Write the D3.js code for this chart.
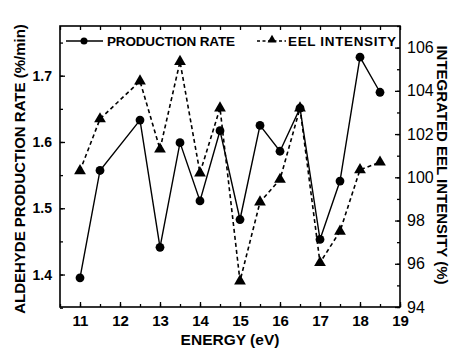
<!DOCTYPE html>
<html>
<head>
<meta charset="utf-8">
<script src="https://cdn.jsdelivr.net/npm/d3@7"></script>
<style>
  body { margin: 0; background: #fff; }
  text { font-family: "Liberation Sans", Arial, sans-serif; font-weight: bold; fill: #000; }
</style>
</head>
<body>
<svg id="chart" width="452" height="349"></svg>
<script>
// data
var energy = [11, 11.5, 12.5, 13, 13.5, 14, 14.5, 15, 15.5, 16, 16.5, 17, 17.5, 18, 18.5];
var productionRate = [1.395, 1.557, 1.633, 1.441, 1.599, 1.511, 1.617, 1.483, 1.625, 1.586, 1.651, 1.453, 1.541, 1.728, 1.675];
var eelIntensity = [100.3, 102.7, 104.45, 101.3, 105.35, 100.2, 103.2, 95.2, 98.85, 99.9, 103.2, 96.05, 97.5, 100.35, 100.7];

var xTicks = [11, 12, 13, 14, 15, 16, 17, 18, 19];
var leftTicks = [1.4, 1.5, 1.6, 1.7];
var rightTicks = [94, 96, 98, 100, 102, 104, 106];

var svg = d3.select("#chart");
var mLeft = 60, mRight = 400, mTop = 26, mBottom = 307;

var x = d3.scaleLinear().domain([10.5, 19]).range([mLeft, mRight]);
var yL = d3.scaleLinear().domain([1.351, 1.775]).range([mBottom, mTop]);
var yR = d3.scaleLinear().domain([94, 107]).range([mBottom, mTop]);

// frame
svg.append("rect")
    .attr("x", mLeft).attr("y", mTop)
    .attr("width", mRight - mLeft).attr("height", mBottom - mTop)
    .attr("fill", "none").attr("stroke", "#000").attr("stroke-width", 1.6);

// axes, ticks pointing inward
function styleAxis(g) {
    g.select(".domain").remove();
    g.selectAll("line").attr("stroke", "#000").attr("stroke-width", 1.3);
    g.selectAll("text").style("font-size", "14px");
}

var xMinor = d3.range(10.5, 19.01, 0.5);
svg.append("g").attr("transform", "translate(0," + mBottom + ")")
    .call(d3.axisBottom(x).tickValues(xMinor).tickSize(-3).tickFormat(""))
    .call(styleAxis);
svg.append("g").attr("transform", "translate(0," + mBottom + ")")
    .call(d3.axisBottom(x).tickValues(xTicks).tickSize(-5).tickPadding(8).tickFormat(d3.format("d")))
    .call(styleAxis)
    .selectAll("text").style("font-size", "15px");
svg.append("g").attr("transform", "translate(0," + mTop + ")")
    .call(d3.axisTop(x).tickValues(xMinor).tickSize(-4).tickFormat(""))
    .call(styleAxis);

svg.append("g").attr("transform", "translate(" + mLeft + ",0)")
    .call(d3.axisLeft(yL).tickValues(d3.range(1.35, 1.776, 0.05)).tickSize(-3).tickFormat(""))
    .call(styleAxis);
svg.append("g").attr("transform", "translate(" + mLeft + ",0)")
    .call(d3.axisLeft(yL).tickValues(leftTicks).tickSize(-5).tickPadding(8).tickFormat(d3.format(".1f")))
    .call(styleAxis);

svg.append("g").attr("transform", "translate(" + mRight + ",0)")
    .call(d3.axisRight(yR).tickValues(d3.range(94, 107.01, 1)).tickSize(-3).tickFormat(""))
    .call(styleAxis);
svg.append("g").attr("transform", "translate(" + mRight + ",0)")
    .call(d3.axisRight(yR).tickValues(rightTicks).tickSize(-5).tickPadding(7).tickFormat(d3.format("d")))
    .call(styleAxis)
    .selectAll("text").style("font-size", "16px").style("font-weight", "normal");

// EEL intensity, dashed with triangles
svg.append("path")
    .datum(energy)
    .attr("fill", "none").attr("stroke", "#000").attr("stroke-width", 1.6)
    .attr("stroke-dasharray", "4,3")
    .attr("d", d3.line().x(function(d) { return x(d); }).y(function(d, i) { return yR(eelIntensity[i]); }));

var tri = d3.symbol().type(d3.symbolTriangle).size(60);
svg.selectAll("path.tri")
    .data(energy)
    .enter().append("path")
    .attr("class", "tri")
    .attr("d", tri)
    .attr("transform", function(d, i) { return "translate(" + x(d) + "," + yR(eelIntensity[i]) + ")"; })
    .attr("fill", "#000");

// production rate, solid with circles
svg.append("path")
    .datum(energy)
    .attr("fill", "none").attr("stroke", "#000").attr("stroke-width", 1.4)
    .attr("d", d3.line().x(function(d) { return x(d); }).y(function(d, i) { return yL(productionRate[i]); }));

svg.selectAll("circle.pr")
    .data(energy)
    .enter().append("circle")
    .attr("class", "pr")
    .attr("cx", function(d) { return x(d); })
    .attr("cy", function(d, i) { return yL(productionRate[i]); })
    .attr("r", 4.4)
    .attr("fill", "#000");

// legend
var ly = 41;
svg.append("line").attr("x1", 66).attr("x2", 103).attr("y1", ly).attr("y2", ly)
    .attr("stroke", "#000").attr("stroke-width", 1.5);
svg.append("circle").attr("cx", 84).attr("cy", ly).attr("r", 3.5).attr("fill", "#000");
svg.append("text").attr("x", 107).attr("y", ly + 5).style("font-size", "13.5px")
    .attr("textLength", 128).text("PRODUCTION RATE");

svg.append("line").attr("x1", 257).attr("x2", 286).attr("y1", ly).attr("y2", ly)
    .attr("stroke", "#000").attr("stroke-width", 1.5).attr("stroke-dasharray", "3,2.5");
svg.append("path").attr("d", d3.symbol().type(d3.symbolTriangle).size(35))
    .attr("transform", "translate(272," + (ly - 1) + ")").attr("fill", "#000");
svg.append("text").attr("x", 288).attr("y", ly + 5).style("font-size", "13.5px")
    .attr("textLength", 108).text("EEL INTENSITY");

// axis titles
svg.append("text")
    .attr("x", 230).attr("y", 345)
    .attr("text-anchor", "middle")
    .style("font-size", "15.5px")
    .text("ENERGY (eV)");

svg.append("text")
    .attr("transform", "translate(25,169) rotate(-90)")
    .attr("text-anchor", "middle")
    .style("font-size", "15px")
    .text("ALDEHYDE PRODUCTION RATE (%/min)");

svg.append("text")
    .attr("transform", "translate(437,165) rotate(90)")
    .attr("text-anchor", "middle")
    .style("font-size", "15px")
    .text("INTEGRATED EEL INTENSITY (%)");
</script>
</body>
</html>
